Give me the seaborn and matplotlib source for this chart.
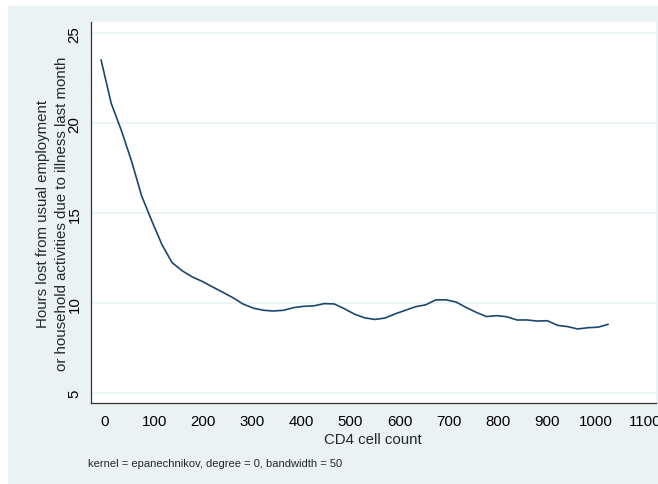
import matplotlib
matplotlib.use("Agg")
import matplotlib.pyplot as plt
import matplotlib.patches as mpatches
import seaborn as sns
import pandas as pd

cd4 = [-8, 12.7, 33.3, 54, 74.6, 95.3, 116, 136.6, 157, 178, 198.6, 219, 240, 260.6,
       281, 302, 322.6, 343, 364, 384.6, 405, 426, 446.6, 467, 488, 508.6, 529, 550,
       570.6, 591, 612, 632.6, 653, 674, 694.6, 715, 736, 756.6, 777, 798, 818.6, 839,
       860, 880.6, 901, 922, 942.6, 963, 984, 1004.6, 1025]
hours = [23.52, 21.1, 19.6, 17.9, 15.96, 14.57, 13.25, 12.25, 11.8, 11.45, 11.2, 10.9,
         10.6, 10.3, 9.95, 9.72, 9.6, 9.56, 9.6, 9.75, 9.82, 9.85, 9.97, 9.95, 9.68, 9.38,
         9.18, 9.09, 9.17, 9.4, 9.6, 9.8, 9.9, 10.18, 10.18, 10.06, 9.75, 9.48, 9.25, 9.3,
         9.24, 9.06, 9.06, 9.0, 9.02, 8.76, 8.69, 8.56, 8.63, 8.66, 8.82]
xticks = list(range(0, 1101, 100))
yticks = [5, 10, 15, 20, 25]

sns.set_theme(style="white")
plt.rcParams['font.family'] = ['Liberation Sans', 'DejaVu Sans']

W, H = 658, 485
fig = plt.figure(figsize=(W / 100, H / 100), dpi=100)
fig.patch.set_facecolor("white")
bg = "#eaf2f3"
fig.patches.append(mpatches.Rectangle((8 / W, 0), 1 - 8 / W, 1 - 7 / H,
                                      transform=fig.transFigure, facecolor=bg,
                                      edgecolor="none", zorder=-10))

ax = fig.add_axes([90.7 / W, 1 - 404.3 / H, (656 - 90.7) / W, (404.3 - 23) / H])
ax.set_zorder(1)
ax.set_facecolor("white")

df = pd.DataFrame({"cd4": cd4, "hours": hours})
sns.lineplot(data=df, x="cd4", y="hours", ax=ax, color="#1a476f", linewidth=1.2,
             sort=False, zorder=3)

ax.set_xlim((90.7 - 105) / 0.4909, (656 - 105) / 0.4909)
ax.set_ylim(5 - 10.3 / 18, 25 + 11.3 / 18)
ax.set_xticks(xticks)
ax.set_yticks(yticks)
ax.set_xticklabels([str(t) for t in xticks], fontsize=10.8)
ax.set_yticklabels([str(t) for t in yticks], fontsize=10.8, rotation=90, va="center")
ax.tick_params(axis="both", direction="out", length=4.5, width=0.9, color="#333333",
               labelcolor="black")
ax.tick_params(axis="x", pad=3)
ax.tick_params(axis="y", pad=2)
ax.yaxis.grid(True, color=bg, linewidth=1.2, zorder=0)
ax.xaxis.grid(False)
for s in ["top", "right"]:
    ax.spines[s].set_visible(False)
for s in ["left", "bottom"]:
    ax.spines[s].set_color("#333333")
    ax.spines[s].set_linewidth(0.9)

ax.set_xlabel("")
ax.set_ylabel("")
fig.text(373 / W, 1 - 440 / H, "CD4 cell count", ha="center", va="center", fontsize=10.8)
fig.text(43 / W, 1 - 214 / H, "Hours lost from usual employment", ha="center",
         va="center", rotation=90, fontsize=10.8)
fig.text(62 / W, 1 - 214 / H, "or household activities due to illness last month",
         ha="center", va="center", rotation=90, fontsize=10.8)
fig.text(88 / W, 1 - 464 / H, "kernel = epanechnikov, degree = 0, bandwidth = 50",
         ha="left", va="center", fontsize=8)

fig.savefig("out.png", dpi=100, facecolor=fig.get_facecolor())
